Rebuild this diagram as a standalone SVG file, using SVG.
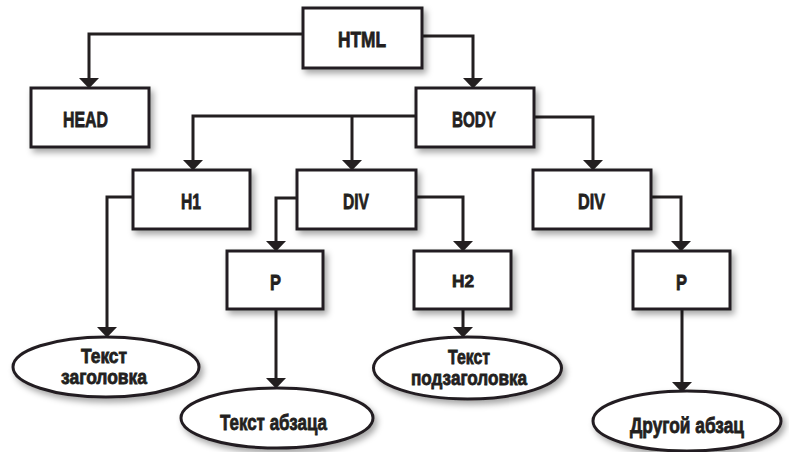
<svg xmlns="http://www.w3.org/2000/svg" width="789" height="452" viewBox="0 0 789 452">
<defs>
<filter id="sh" x="-20%" y="-30%" width="150%" height="170%">
<feDropShadow dx="3" dy="4" stdDeviation="3" flood-color="#000" flood-opacity="0.35"/>
</filter>
<marker id="ah" markerUnits="userSpaceOnUse" markerWidth="11" markerHeight="20" viewBox="0 0 11 20" refX="0" refY="10" orient="auto">
<path d="M0,0 L10.5,10 L0,20 z" fill="#231f20"/>
</marker>
</defs>
<style>
.box{fill:#fff;stroke:#231f20;stroke-width:3;filter:url(#sh)}
.lbl{font-family:"Liberation Sans","Noto Sans",sans-serif;font-weight:bold;font-size:22px;fill:#231f20;stroke:#231f20;stroke-width:0.8}
.sm{font-size:20px}
.c{fill:none;stroke:#231f20;stroke-width:3;marker-end:url(#ah)}
</style>
<g id="connectors">
<path class="c" d="M303,34 H89 V78"/>
<path class="c" d="M422,36 H473 V78"/>
<path class="c" d="M416,116 H193 V160"/>
<path class="c" d="M352,116 V160"/>
<path class="c" d="M534,117 H593 V160"/>
<path class="c" d="M133,197 H107 V327"/>
<path class="c" d="M297,198 H276 V241"/>
<path class="c" d="M416,197 H463 V241"/>
<path class="c" d="M651,197 H681 V241"/>
<path class="c" d="M276,309 V378"/>
<path class="c" d="M463,309 V327"/>
<path class="c" d="M682,309 V382"/>
</g>
<g id="html"><rect class="box" x="303" y="8" width="119" height="60"/><text class="lbl" x="338" y="47" textLength="48" lengthAdjust="spacingAndGlyphs">HTML</text></g>
<g id="head"><rect class="box" x="31" y="88" width="118" height="59"/><text class="lbl" x="63" y="127" textLength="45" lengthAdjust="spacingAndGlyphs">HEAD</text></g>
<g id="body"><rect class="box" x="416" y="88" width="118" height="59"/><text class="lbl" x="452" y="127" textLength="44" lengthAdjust="spacingAndGlyphs">BODY</text></g>
<g id="h1"><rect class="box" x="133" y="170" width="117" height="59"/><text class="lbl" x="181" y="209" textLength="20" lengthAdjust="spacingAndGlyphs">H1</text></g>
<g id="div1"><rect class="box" x="297" y="170" width="119" height="59"/><text class="lbl" x="343" y="209" textLength="26" lengthAdjust="spacingAndGlyphs">DIV</text></g>
<g id="div2"><rect class="box" x="533" y="170" width="118" height="59"/><text class="lbl" x="578" y="209" textLength="27" lengthAdjust="spacingAndGlyphs">DIV</text></g>
<g id="p1"><rect class="box" x="227" y="251" width="96" height="58"/><text class="lbl" x="270" y="290" textLength="11" lengthAdjust="spacingAndGlyphs">P</text></g>
<g id="h2"><rect class="box" x="414" y="251" width="97" height="58"/><text class="lbl" style="font-size:17px" x="452" y="287" textLength="22" lengthAdjust="spacingAndGlyphs">H2</text></g>
<g id="p2"><rect class="box" x="633" y="251" width="97" height="58"/><text class="lbl" x="676" y="290" textLength="11" lengthAdjust="spacingAndGlyphs">P</text></g>
<g id="t1"><ellipse class="box" cx="106" cy="367" rx="93" ry="30"/><text class="lbl sm" x="81" y="363" textLength="46" lengthAdjust="spacingAndGlyphs">Текст</text><text class="lbl sm" x="61" y="384" textLength="86" lengthAdjust="spacingAndGlyphs">заголовка</text></g>
<g id="t2"><ellipse class="box" cx="277" cy="418" rx="96" ry="30"/><text class="lbl" x="220" y="430" textLength="107" lengthAdjust="spacingAndGlyphs">Текст абзаца</text></g>
<g id="t3"><ellipse class="box" cx="467.5" cy="368" rx="94" ry="31"/><text class="lbl sm" x="448" y="364" textLength="42" lengthAdjust="spacingAndGlyphs">Текст</text><text class="lbl sm" x="411" y="385" textLength="116" lengthAdjust="spacingAndGlyphs">подзаголовка</text></g>
<g id="t4"><ellipse class="box" cx="687" cy="421" rx="94" ry="30"/><text class="lbl" x="630" y="433" textLength="114" lengthAdjust="spacingAndGlyphs">Другой абзац</text></g>
</svg>
